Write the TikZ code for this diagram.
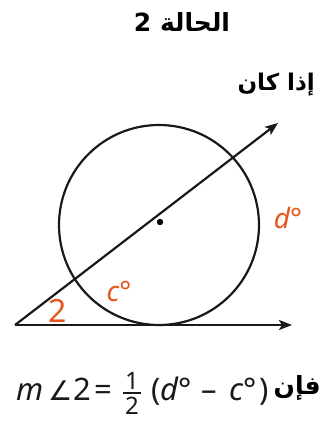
\documentclass[tikz,border=0pt]{standalone}
\usepackage{fontspec}
\setmainfont{Noto Sans}
\newfontfamily\arabicfont[Script=Arabic]{DejaVu Sans}
\newfontfamily\symfont{DejaVu Sans}
\TeXXeTstate=1
\usetikzlibrary{arrows.meta}
\definecolor{lblorange}{HTML}{E8541C}
\tikzset{
  geo/.style={line width=2.2pt, black!90},
  ray/.style={geo, -{Stealth[length=13pt,width=10pt,inset=3pt]}},
  lbl/.style={text=lblorange, inner sep=0pt},
  ar/.style={font=\arabicfont\bfseries\fontsize{25}{28}\selectfont, inner sep=0pt},
  fm/.style={anchor=base west, inner sep=0pt, text=black!90, font=\fontsize{31}{33}\selectfont},
  frac/.style={anchor=base, inner sep=0pt, text=black!90, font=\fontsize{24}{26}\selectfont},
}
\begin{document}
\begin{tikzpicture}[x=1pt,y=-1pt]
\useasboundingbox (0,0) rectangle (322,421);
% geometry
\coordinate (V) at (15,325);
\coordinate (E1) at (292,325);
\coordinate (E2) at (278,123);
\node[circle, draw, geo, minimum size=200pt, inner sep=0pt] (C) at (159,225) {};
\fill (160,222) circle (3.2pt);
\draw[ray] (V) -- (E1);
\draw[ray] (V) -- (E2);
% labels
\node[lbl, font=\fontsize{32}{34}\selectfont] (two) at (58,311) {2};
\node[lbl, font=\fontsize{28}{30}\selectfont] (c) at (119,291) {\itshape c°};
\node[lbl, font=\fontsize{28}{30}\selectfont] (d) at (288,218) {\itshape d°};
% texts
\node[ar] (title) at (182,22) {\beginR الحالة 2\endR};
\node[ar, anchor=east, font=\arabicfont\bfseries\fontsize{23}{26}\selectfont] (if) at (315,85) {\beginR إذا كان\endR};
\node[ar, anchor=east] (then) at (321,388) {\beginR فإن\endR};
% formula
\node[fm] (fm1) at (16,400) {\itshape m};
\node[fm, font=\symfont\fontsize{27}{30}\selectfont] (fang) at (48,400) {∠};
\node[fm] (f2) at (73,400) {2};
\node[fm] (feq) at (94,400) {=};
\node[frac] (fn) at (132,389) {1};
\node[frac] (fd) at (132,414) {2};
\coordinate (bl) at (123,393);
\coordinate (br) at (141,393);
\draw[line width=1.6pt, black!90] (bl) -- (br);
\node[fm] (fpl) at (151,400) {(};
\node[fm] (fd2) at (160,400) {\itshape d°};
\node[fm] (fmin) at (201,400) {–};
\node[fm] (fc) at (229,400) {\itshape c°};
\node[fm] (fpr) at (259,400) {)};
\end{tikzpicture}
\end{document}
